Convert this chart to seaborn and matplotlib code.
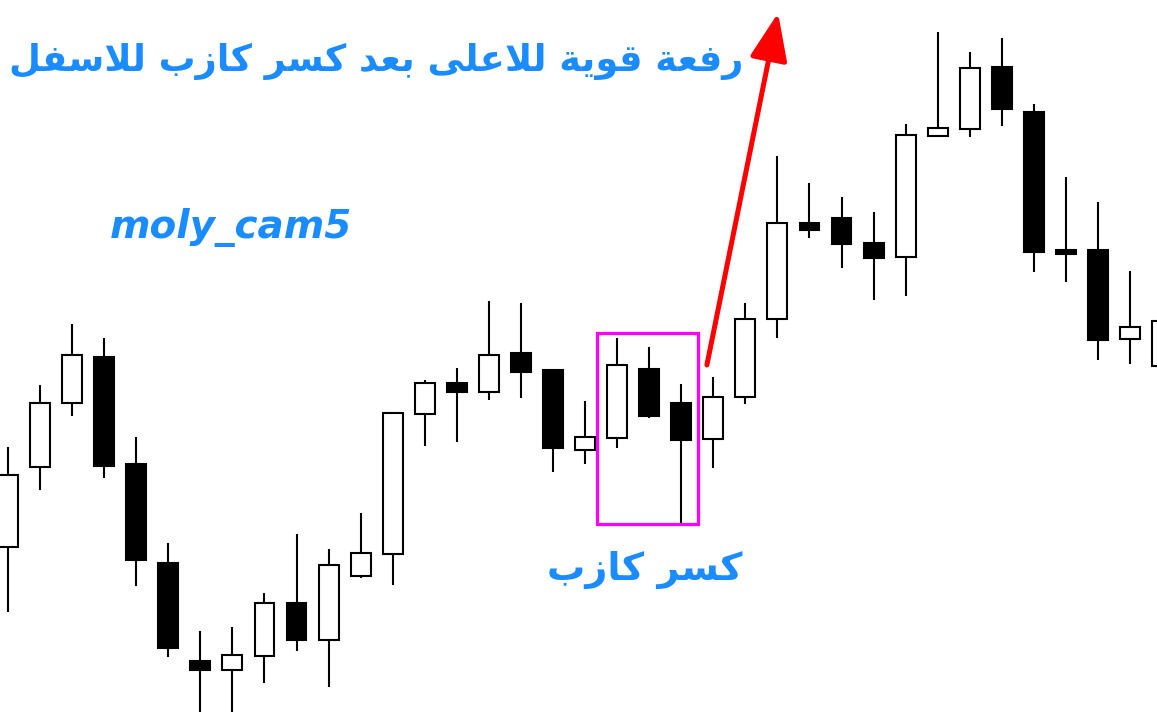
import numpy as np
import pandas as pd
import matplotlib
matplotlib.use("Agg")
import matplotlib.pyplot as plt
import seaborn as sns
from matplotlib.patches import Rectangle

# candle data (price units)
opens  = [165, 245, 309, 355, 248, 149, 51, 42, 56, 109, 72, 136, 158, 298, 329, 320, 359, 342,
          262, 274, 343, 309, 273, 315, 393, 489, 494, 469, 455, 576, 583, 645, 600, 462, 462, 373, 346]
closes = [237, 309, 357, 246, 152, 64, 42, 57, 109, 72, 147, 159, 299, 329, 320, 357, 340, 264,
          275, 347, 296, 272, 315, 393, 489, 482, 468, 454, 577, 584, 644, 603, 460, 458, 372, 385, 391]
highs  = [265, 327, 388, 374, 275, 169, 81, 85, 119, 178, 163, 199, 299, 332, 344, 411, 409, 342,
          311, 374, 365, 328, 335, 409, 556, 529, 515, 500, 588, 680, 660, 674, 608, 535, 510, 441, 391]
lows   = [100, 222, 296, 234, 126, 55, -10, -10, 29, 61, 25, 134, 127, 266, 270, 312, 314, 240,
          248, 264, 294, 189, 244, 308, 374, 474, 444, 412, 416, 575, 575, 586, 440, 430, 352, 348, 346]

title_text = "رفعة قوية للاعلى بعد كسر كازب للاسفل"
fake_break_text = "كسر كازب"
watermark = "moly_cam5"

# minimal arabic shaping (matplotlib has no text shaping)
FORMS = {  # isolated, final, initial, medial
    "ا": ("\uFE8D", "\uFE8E", None, None),
    "ب": ("\uFE8F", "\uFE90", "\uFE91", "\uFE92"),
    "ة": ("\uFE93", "\uFE94", None, None),
    "د": ("\uFEA9", "\uFEAA", None, None),
    "ذ": ("\uFEAB", "\uFEAC", None, None),
    "ر": ("\uFEAD", "\uFEAE", None, None),
    "ز": ("\uFEAF", "\uFEB0", None, None),
    "س": ("\uFEB1", "\uFEB2", "\uFEB3", "\uFEB4"),
    "ع": ("\uFEC9", "\uFECA", "\uFECB", "\uFECC"),
    "ف": ("\uFED1", "\uFED2", "\uFED3", "\uFED4"),
    "ق": ("\uFED5", "\uFED6", "\uFED7", "\uFED8"),
    "ك": ("\uFED9", "\uFEDA", "\uFEDB", "\uFEDC"),
    "ل": ("\uFEDD", "\uFEDE", "\uFEDF", "\uFEE0"),
    "و": ("\uFEED", "\uFEEE", None, None),
    "ى": ("\uFEEF", "\uFEF0", None, None),
    "ي": ("\uFEF1", "\uFEF2", "\uFEF3", "\uFEF4"),
    "ﻻ": ("\uFEFB", "\uFEFC", None, None),
}


def shape_word(word):
    word = word.replace("لا", "ﻻ")
    out = []
    for i, ch in enumerate(word):
        f = FORMS.get(ch)
        if f is None:
            out.append(ch)
            continue
        prev_joins = i > 0 and FORMS.get(word[i - 1], (None,) * 4)[2] is not None
        next_exists = i < len(word) - 1 and word[i + 1] in FORMS
        can_next = f[2] is not None and next_exists
        if prev_joins and can_next:
            out.append(f[3])
        elif prev_joins:
            out.append(f[1])
        elif can_next:
            out.append(f[2])
        else:
            out.append(f[0])
    return "".join(out)


def shape(text):
    words = [shape_word(w) for w in text.split(" ")]
    return " ".join(words)[::-1]


df = pd.DataFrame(dict(open=opens, close=closes, high=highs, low=lows))
df["bull"] = df["close"] >= df["open"]
df["bottom"] = df[["open", "close"]].min(axis=1)
df["height"] = (df["close"] - df["open"]).abs().clip(lower=2)

sns.set_theme(style="white")
fig = plt.figure(figsize=(11.57, 7.12), dpi=100)
ax = fig.add_axes([0, 0, 1, 1])

ax.vlines(df.index, df["low"], df["high"], color="black", lw=1.5, zorder=1)
ax.bar(df.index, df["height"], bottom=df["bottom"], width=0.62,
       color=np.where(df["bull"], "white", "black"), edgecolor="black", lw=1.5, zorder=2)

ax.set_xlim(-0.25, 35.84)
ax.set_ylim(0, 712)
ax.axis("off")

# false-break box and the breakout arrow
ax.add_patch(Rectangle((18.37, 188), 3.15, 191, fill=False, edgecolor="#ff00ff", lw=2.3, zorder=3))
ax.annotate("", xy=(24.02, 699), xytext=(21.8, 347),
            arrowprops=dict(arrowstyle="-|>,head_length=1.45,head_width=0.58", mutation_scale=20,
                            color="red", lw=3.6, shrinkA=0, shrinkB=0), zorder=4)

blue = "#1a8cff"
fig.text(0.325, 0.914, shape(title_text), color=blue, fontsize=26.5, fontweight="bold",
         family="DejaVu Sans", ha="center", va="center")
fig.text(0.2, 0.68, watermark, color=blue, fontsize=28, fontweight="bold", style="italic",
         family="DejaVu Sans", ha="center", va="center")
fig.text(0.557, 0.2, shape(fake_break_text), color=blue, fontsize=27.5, fontweight="bold",
         family="DejaVu Sans", ha="center", va="center")

plt.savefig("out.png", dpi=100)
